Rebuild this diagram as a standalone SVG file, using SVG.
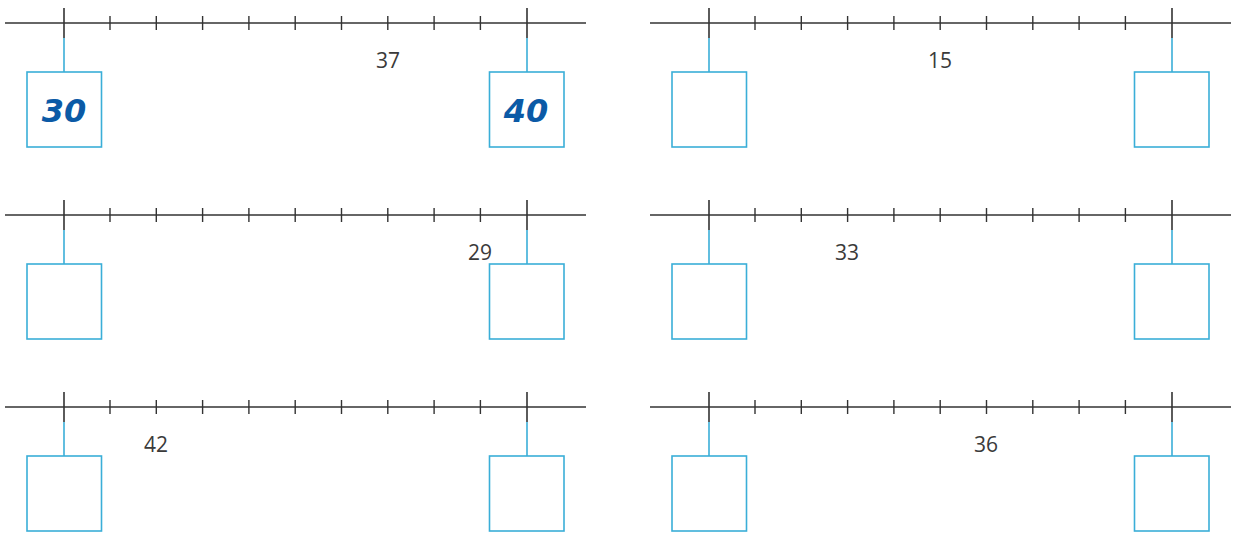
<svg xmlns="http://www.w3.org/2000/svg" xmlns:xlink="http://www.w3.org/1999/xlink" width="1243" height="533" viewBox="0 0 1243 533">
<style>
.axis{stroke:#333;stroke-width:1.4;fill:none}
.major{stroke:#333;stroke-width:1.6}
.minor{stroke:#333;stroke-width:1.4}
.conn{stroke:#3aaed8;stroke-width:1.6}
.box{fill:#fff;stroke:#3aaed8;stroke-width:1.6}
.num{font-family:"Open Sans","Noto Sans","Liberation Sans",sans-serif;font-size:21px;font-weight:400;fill:#3a3a3a;text-anchor:middle}
.hand{font-family:"DejaVu Sans","Liberation Sans",sans-serif;font-size:32px;font-weight:bold;font-style:italic;fill:#0b5aa6;text-anchor:middle}
</style>
<defs>
<g id="line">
<line class="axis" x1="0" y1="0" x2="581" y2="0"/>
<line class="minor" x1="105" y1="-7" x2="105" y2="7"/>
<line class="minor" x1="151.3" y1="-7" x2="151.3" y2="7"/>
<line class="minor" x1="197.6" y1="-7" x2="197.6" y2="7"/>
<line class="minor" x1="243.9" y1="-7" x2="243.9" y2="7"/>
<line class="minor" x1="290.2" y1="-7" x2="290.2" y2="7"/>
<line class="minor" x1="336.5" y1="-7" x2="336.5" y2="7"/>
<line class="minor" x1="382.8" y1="-7" x2="382.8" y2="7"/>
<line class="minor" x1="429.1" y1="-7" x2="429.1" y2="7"/>
<line class="minor" x1="475.4" y1="-7" x2="475.4" y2="7"/>
</g>
<g id="ends">
<line class="conn" x1="59" y1="15" x2="59" y2="49"/>
<line class="major" x1="59" y1="-15" x2="59" y2="15"/>
<line class="conn" x1="522" y1="15" x2="522" y2="49"/>
<line class="major" x1="522" y1="-15" x2="522" y2="15"/>
<rect class="box" x="22" y="49" width="74.5" height="75"/>
<rect class="box" x="484.5" y="49" width="74.5" height="75"/>
</g>
</defs>
<g id="connectors">
<use xlink:href="#line" x="5" y="23"/>
<use xlink:href="#line" x="650" y="23"/>
<use xlink:href="#line" x="5" y="215"/>
<use xlink:href="#line" x="650" y="215"/>
<use xlink:href="#line" x="5" y="407"/>
<use xlink:href="#line" x="650" y="407"/>
</g>
<g id="row1-left"><use xlink:href="#ends" x="5" y="23"/><text class="hand" x="64" y="122">30</text><text class="hand" x="526" y="122">40</text><text class="num" x="388" y="68">37</text></g>
<g id="row1-right"><use xlink:href="#ends" x="650" y="23"/><text class="num" x="940" y="68">15</text></g>
<g id="row2-left"><use xlink:href="#ends" x="5" y="215"/><text class="num" x="480" y="260">29</text></g>
<g id="row2-right"><use xlink:href="#ends" x="650" y="215"/><text class="num" x="847" y="260">33</text></g>
<g id="row3-left"><use xlink:href="#ends" x="5" y="407"/><text class="num" x="156" y="452">42</text></g>
<g id="row3-right"><use xlink:href="#ends" x="650" y="407"/><text class="num" x="986" y="452">36</text></g>
</svg>
